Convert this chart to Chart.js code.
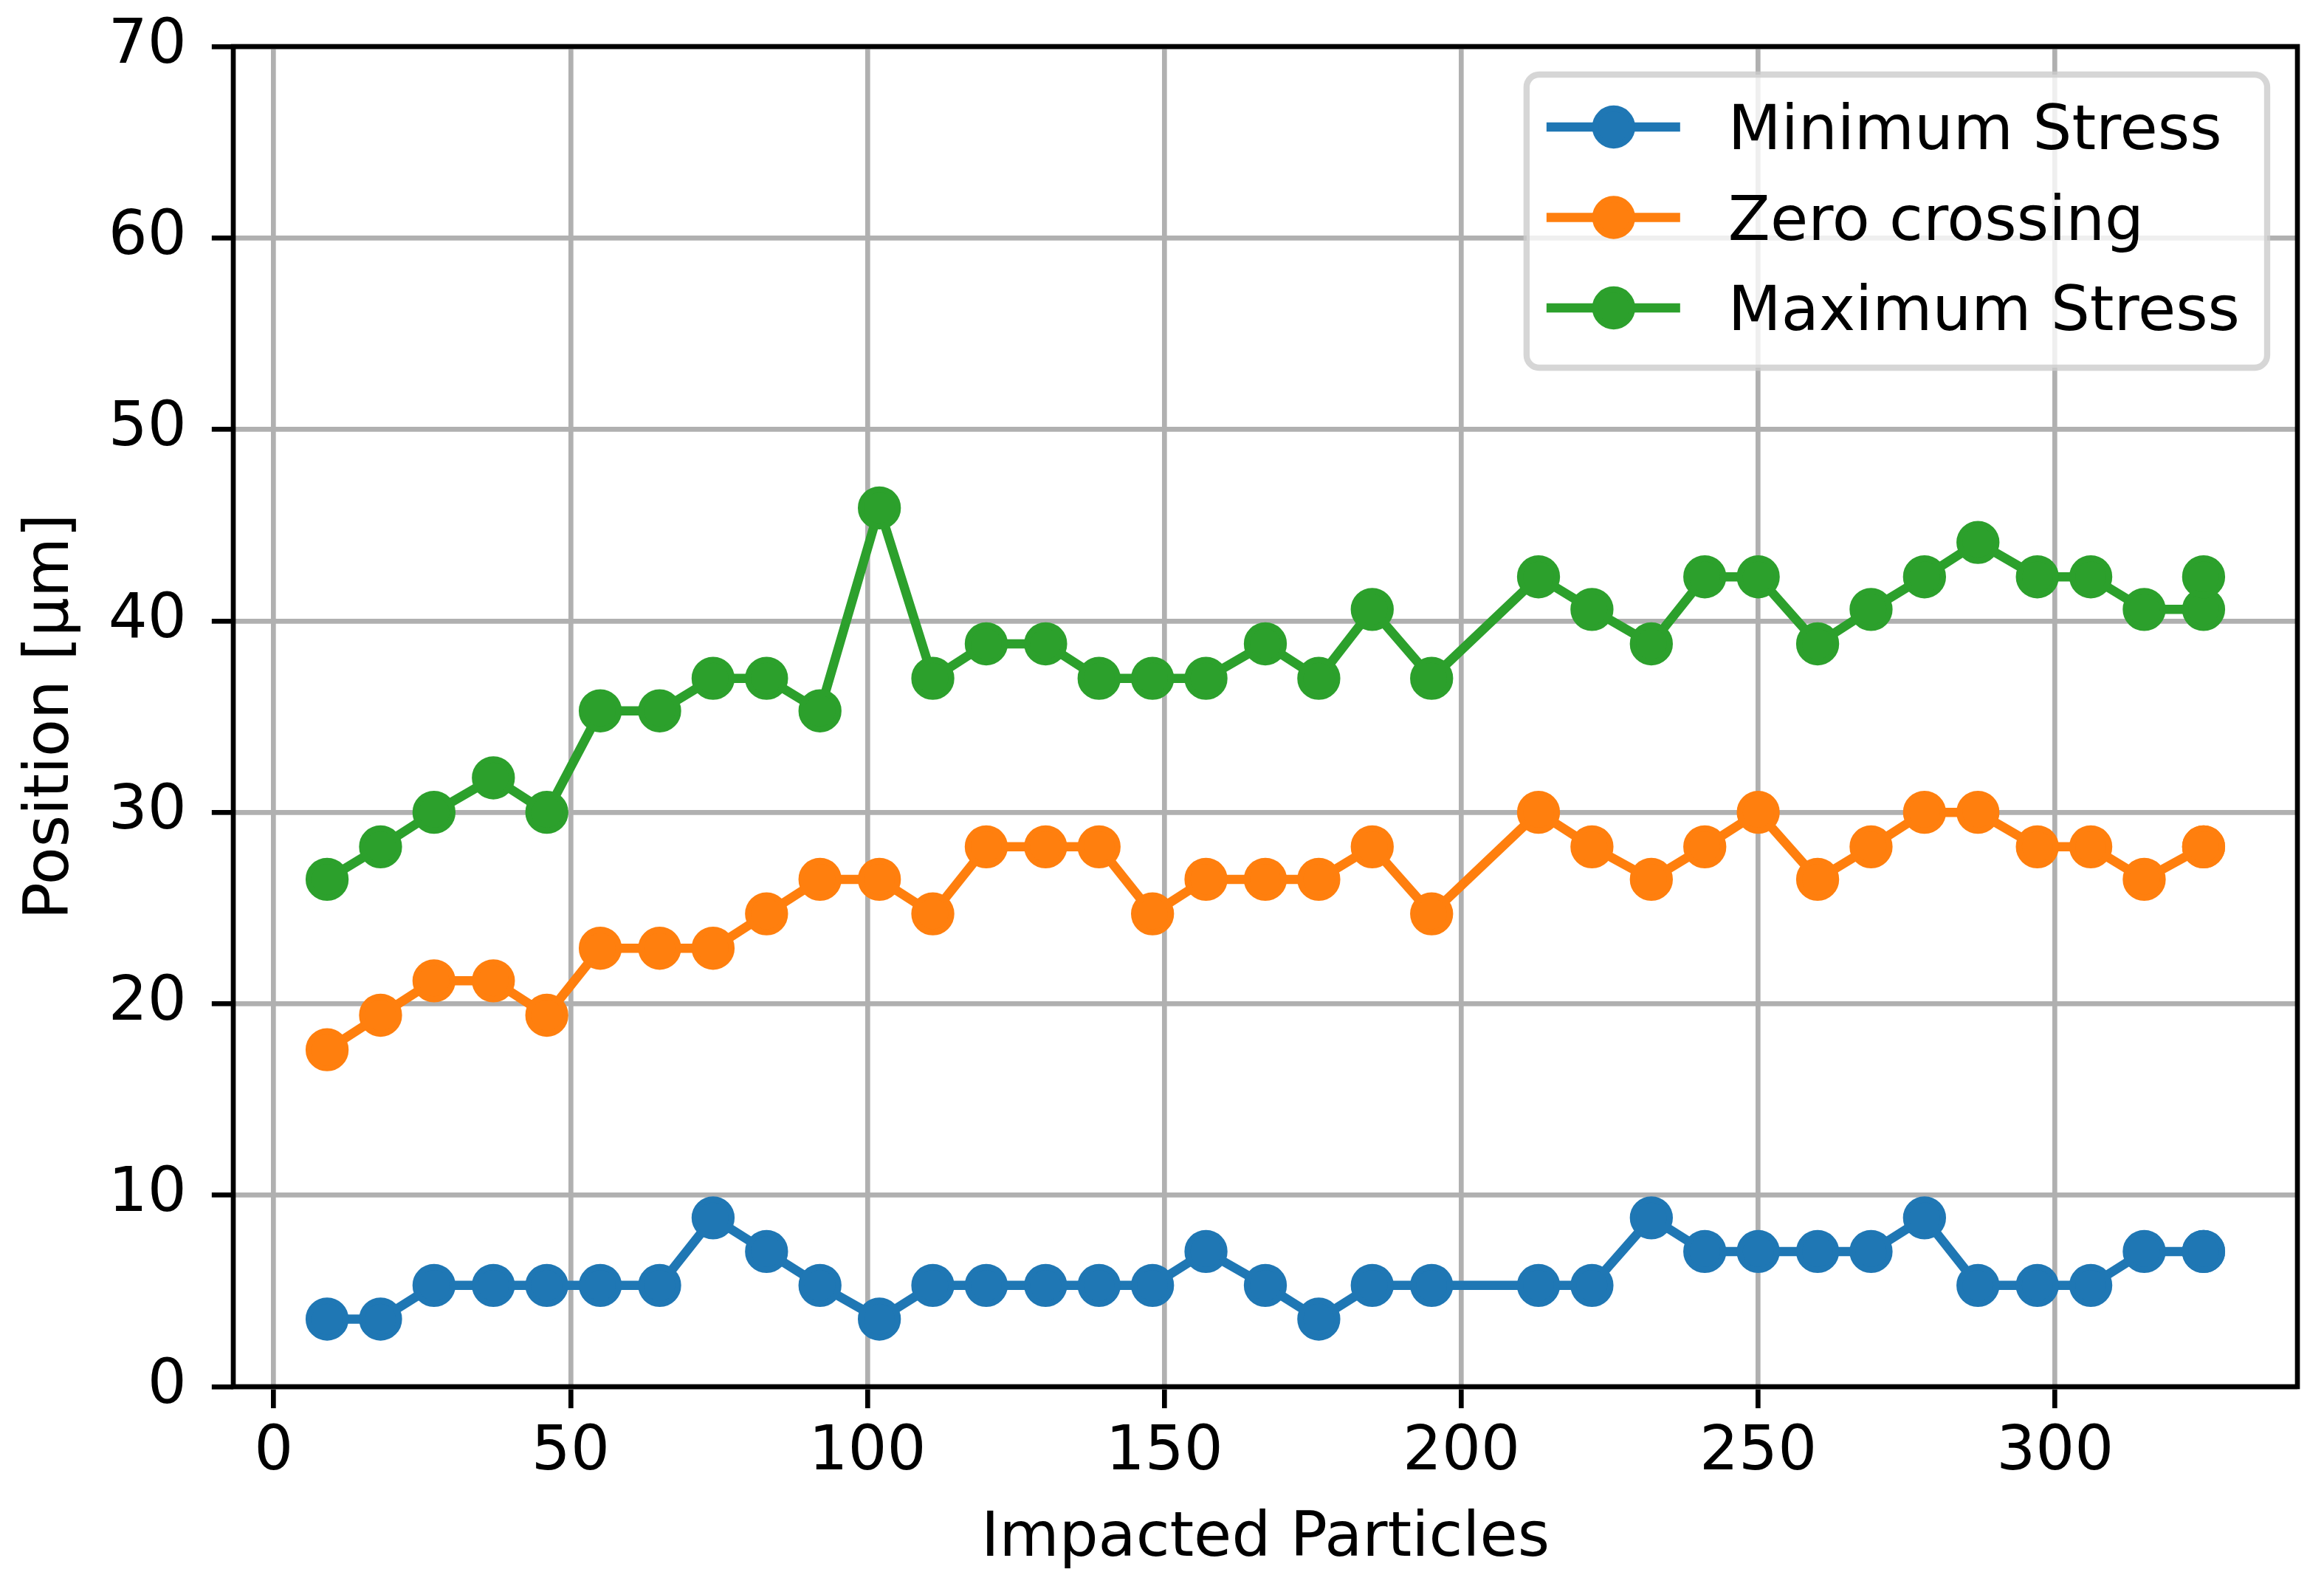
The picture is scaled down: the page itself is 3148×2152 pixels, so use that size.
<!DOCTYPE html>
<html>
<head>
<meta charset="utf-8">
<title>Position vs impacted particles</title>
<script src="https://cdn.jsdelivr.net/npm/chart.js@4.4.1/dist/chart.umd.min.js"></script>
<style>
  html, body { margin: 0; padding: 0; background: #fff; overflow: hidden; }
  canvas { display: block; }
</style>
</head>
<body>
<canvas id="chart" width="3148" height="2152"></canvas>
<script>
// data
const particles = [9, 18, 27, 37, 46, 55, 65, 74, 83, 92, 102, 111, 120, 130, 139, 148, 157, 167, 176, 185, 195,
  213, 222, 232, 241, 250, 260, 269, 278, 287, 297, 306, 315, 325, 325];
const minStress = [3.53, 3.53, 5.29, 5.29, 5.29, 5.29, 5.29, 8.82, 7.06, 5.29, 3.53, 5.29, 5.29, 5.29, 5.29, 5.29, 7.06, 5.29, 3.53, 5.29, 5.29,
  5.29, 5.29, 8.82, 7.06, 7.06, 7.06, 7.06, 8.82, 5.29, 5.29, 5.29, 7.06, 7.06, 7.06];
const zeroCrossing = [17.6, 19.4, 21.2, 21.2, 19.4, 22.9, 22.9, 22.9, 24.7, 26.5, 26.5, 24.7, 28.2, 28.2, 28.2, 24.7, 26.5, 26.5, 26.5, 28.2, 24.7,
  30.0, 28.2, 26.5, 28.2, 30.0, 26.5, 28.2, 30.0, 30.0, 28.2, 28.2, 26.5, 28.2, 28.2];
const maxStress = [26.5, 28.2, 30.0, 31.8, 30.0, 35.3, 35.3, 37.0, 37.0, 35.3, 45.9, 37.0, 38.8, 38.8, 37.0, 37.0, 37.0, 38.8, 37.0, 40.6, 37.0,
  42.3, 40.6, 38.8, 42.3, 42.3, 38.8, 40.6, 42.3, 44.1, 42.3, 42.3, 40.6, 40.6, 42.3];
const seriesLabels = ["Minimum Stress", "Zero crossing", "Maximum Stress"];
const xTicks = [0, 50, 100, 150, 200, 250, 300];
const yTicks = [0, 10, 20, 30, 40, 50, 60, 70];

const colors = ["#1f77b4", "#ff7f0e", "#2ca02c"];
const FONT = "DejaVu Sans";
const PT = 600 / 72;    // px per point (600 dpi figure)
const FS = 10 * PT;

function points(values) {
    return particles.map((x, i) => ({ x: x, y: values[i] }));
}

const datasets = [minStress, zeroCrossing, maxStress].map((values, i) => ({
    label: seriesLabels[i],
    data: points(values),
    borderColor: colors[i],
    backgroundColor: colors[i],
    borderWidth: 1.5 * PT,
    borderJoinStyle: "round",
    pointRadius: 3 * PT,
    pointBorderWidth: PT,
    pointBorderColor: colors[i],
    pointBackgroundColor: colors[i],
    pointHoverRadius: 3 * PT,
    tension: 0,
    fill: false,
}));

// top and right spines, drawn over the lines like matplotlib
const framePlugin = {
    id: "frame",
    afterDatasetsDraw(chart) {
        const { ctx, chartArea: a } = chart;
        ctx.save();
        ctx.strokeStyle = "#000";
        ctx.lineWidth = 0.8 * PT;
        ctx.lineJoin = "miter";
        ctx.strokeRect(a.left, a.top, a.right - a.left, a.bottom - a.top);
        ctx.restore();
    }
};

// matplotlib style legend box in the upper right corner
const legendPlugin = {
    id: "mplLegend",
    afterDraw(chart) {
        const { ctx, chartArea: a } = chart;
        const sets = chart.data.datasets;
        ctx.save();
        ctx.font = `${FS}px "${FONT}"`;
        const maxW = Math.max(...sets.map(d => ctx.measureText(d.label).width));
        const right = a.right - 41;
        const textLeft = right - 37 - maxW;
        const left = textLeft - 273;
        const top = a.top + 38;
        const bottom = top + 397;
        const r = 17;

        ctx.beginPath();
        ctx.roundRect(left, top, right - left, bottom - top, r);
        ctx.fillStyle = "rgba(255,255,255,0.8)";
        ctx.fill();
        ctx.lineWidth = PT;
        ctx.strokeStyle = "rgba(204,204,204,0.8)";
        ctx.stroke();

        sets.forEach((d, i) => {
            const cy = top + 71 + i * 122.5;
            ctx.strokeStyle = d.borderColor;
            ctx.lineWidth = d.borderWidth;
            ctx.lineCap = "butt";
            ctx.beginPath();
            ctx.moveTo(textLeft - 246, cy);
            ctx.lineTo(textLeft - 65, cy);
            ctx.stroke();

            ctx.beginPath();
            ctx.arc(textLeft - 155, cy, d.pointRadius, 0, Math.PI * 2);
            ctx.fillStyle = d.pointBackgroundColor;
            ctx.fill();
            ctx.lineWidth = d.pointBorderWidth;
            ctx.strokeStyle = d.pointBorderColor;
            ctx.stroke();

            ctx.fillStyle = "#000";
            ctx.textBaseline = "alphabetic";
            ctx.textAlign = "left";
            ctx.fillText(d.label, textLeft, cy + 30);
        });
        ctx.restore();
    }
};

new Chart(document.getElementById("chart"), {
    type: "line",
    data: { datasets: datasets },
    options: {
        responsive: false,
        animation: false,
        events: [],
        layout: { padding: { top: 63, right: 36, left: 0, bottom: 0 } },
        plugins: {
            legend: { display: false },
            tooltip: { enabled: false },
        },
        scales: {
            x: {
                type: "linear",
                min: -6.8,
                max: 340.8,
                afterBuildTicks: (scale) => { scale.ticks = xTicks.map(v => ({ value: v })); },
                afterFit: (scale) => { scale.height = 274; },
                ticks: {
                    font: { family: FONT, size: FS },
                    color: "#000",
                    padding: 11,
                    maxRotation: 0,
                    autoSkip: false,
                    callback: (v) => String(v),
                },
                grid: {
                    color: "#b0b0b0",
                    lineWidth: 0.8 * PT,
                    tickLength: 3.5 * PT,
                    tickColor: "#000",
                    tickWidth: 0.8 * PT,
                },
                border: { display: false },
                title: {
                    display: true,
                    text: "Impacted Particles",
                    font: { family: FONT, size: FS },
                    color: "#000",
                    padding: { top: 0, bottom: 17 },
                },
            },
            y: {
                type: "linear",
                min: 0,
                max: 70,
                afterBuildTicks: (scale) => { scale.ticks = yTicks.map(v => ({ value: v })); },
                afterFit: (scale) => { scale.width = 316; },
                ticks: {
                    // small lineHeight keeps the top label from pushing the plot area down
                    font: { family: FONT, size: FS, lineHeight: 0.5 },
                    color: "#000",
                    padding: 34,
                    autoSkip: false,
                    callback: (v) => String(v),
                },
                grid: {
                    color: "#b0b0b0",
                    lineWidth: 0.8 * PT,
                    tickLength: 3.5 * PT,
                    tickColor: "#000",
                    tickWidth: 0.8 * PT,
                },
                border: { display: false },
                title: {
                    display: true,
                    text: "Position [µm]",
                    font: { family: FONT, size: FS },
                    color: "#000",
                    padding: { top: 20, bottom: 0 },
                },
            },
        },
    },
    plugins: [framePlugin, legendPlugin],
});
</script>
</body>
</html>
